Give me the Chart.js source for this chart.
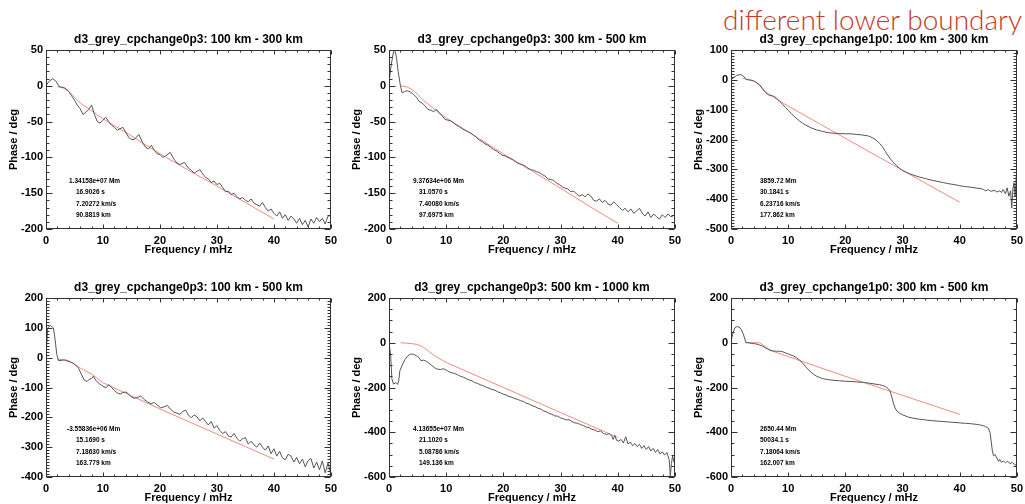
<!DOCTYPE html>
<html>
<head>
<meta charset="utf-8">
<title>Phase vs frequency</title>
<script src="https://cdn.jsdelivr.net/npm/chart.js@4.4.1/dist/chart.umd.min.js"></script>
<style>
  html, body { margin: 0; padding: 0; background: #fff; width: 1025px; height: 504px; overflow: hidden; }
  canvas.panel { position: absolute; }
  #note {
    position: absolute; left: 723px; top: 4px;
    font: 300 28px Lato, "Open Sans", sans-serif; line-height: 30px;
    color: #c4392a; white-space: nowrap;
  }
</style>
</head>
<body>
<div id="note">different lower boundary</div>
<canvas id="p1" class="panel"></canvas>
<canvas id="p2" class="panel"></canvas>
<canvas id="p3" class="panel"></canvas>
<canvas id="p4" class="panel"></canvas>
<canvas id="p5" class="panel"></canvas>
<canvas id="p6" class="panel"></canvas>
<script>
(function() {
    'use strict';

    // x axis (frequency, mHz)
    const freqTicks = [0, 10, 20, 30, 40, 50];

    // y tick labels per panel
    const yTicks1 = [-200, -150, -100, -50, 0, 50];
    const yTicks2 = [-200, -150, -100, -50, 0, 50];
    const yTicks3 = [-500, -400, -300, -200, -100, 0, 100];
    const yTicks4 = [-400, -300, -200, -100, 0, 100, 200];
    const yTicks5 = [-600, -400, -200, 0, 200];
    const yTicks6 = [-600, -400, -200, 0, 200];

    // measured phase [freq, deg]
    const phase1 = [[0,0],[0.5,6],[1.2,10],[1.8,6],[2.2,0],[2.6,-2],[3,-2],[3.5,-4],[4,-8],[4.5,-14],[5,-20],[5.5,-27],[6,-32],[6.5,-40],[7,-37],[7.5,-33],[8,-27],[8.5,-40],[9,-50],[9.5,-52],[10,-48],[10.5,-44],[11,-50],[11.5,-55],[12,-58],[12.5,-62],[13,-60],[13.5,-58],[14,-65],[14.5,-72],[15,-75],[15.5,-75],[16.3,-68],[17,-80],[17.5,-86],[18,-88],[18.5,-83],[19,-90],[19.5,-95],[20,-96],[20.5,-100],[21,-98],[21.8,-93],[22.5,-103],[23,-108],[23.5,-110],[24.3,-107],[25,-115],[25.5,-118],[26,-122],[27,-117],[27.5,-123],[28,-128],[28.5,-130],[29,-135],[29.5,-133],[30,-138],[30.5,-136],[31,-142],[31.5,-148],[32,-147],[32.5,-152],[33,-150],[33.5,-155],[34,-158],[34.5,-156],[35,-160],[35.5,-162],[36,-158],[36.5,-164],[37,-166],[37.5,-168],[38,-163],[38.5,-170],[39,-175],[39.5,-172],[40,-178],[40.5,-182],[41,-176],[41.5,-185],[42,-180],[42.5,-188],[43,-182],[43.5,-186],[44,-192],[44.5,-185],[45,-194],[45.5,-188],[46,-197],[46.5,-186],[47,-192],[47.5,-184],[48,-190],[48.5,-185],[49,-193],[49.5,-182],[50,-181]];
    const phase2 = [[0,5],[0.4,30],[0.8,48],[1,50],[1.3,40],[1.6,20],[2,0],[2.3,-10],[2.7,-8],[3.2,-7],[3.8,-9],[4.3,-12],[4.8,-16],[5.3,-22],[5.8,-24],[6.3,-28],[6.8,-33],[7.3,-34],[7.8,-36],[8.3,-33],[8.8,-38],[9.3,-42],[9.8,-47],[10.3,-48],[10.8,-49],[11.3,-52],[11.8,-55],[12.3,-57],[12.8,-60],[13.3,-62],[13.8,-64],[14.3,-66],[14.8,-69],[15.3,-72],[15.8,-76],[16.3,-78],[16.8,-81],[17.3,-83],[17.8,-86],[18.3,-89],[18.8,-91],[19.3,-94],[19.8,-97],[20.3,-98],[20.8,-100],[21.3,-102],[21.8,-104],[22.3,-107],[22.8,-109],[23.3,-110],[23.8,-112],[24.3,-115],[24.8,-117],[25.3,-118],[25.8,-120],[26.3,-121],[26.8,-124],[27.3,-126],[27.8,-130],[28.3,-131],[28.8,-132],[29.3,-136],[29.8,-138],[30.3,-141],[30.8,-143],[31.3,-144],[31.8,-148],[32.3,-147],[32.8,-151],[33.3,-154],[33.8,-152],[34.3,-155],[34.8,-151],[35.3,-154],[35.8,-160],[36.3,-161],[36.8,-158],[37.3,-163],[37.8,-160],[38.3,-165],[38.8,-167],[39.3,-162],[39.8,-166],[40.3,-170],[40.8,-174],[41.3,-171],[41.8,-176],[42.3,-172],[42.8,-178],[43.3,-175],[43.8,-171],[44.3,-178],[44.8,-182],[45.3,-176],[45.8,-184],[46.3,-179],[46.8,-183],[47.3,-186],[47.8,-180],[48.3,-184],[48.8,-179],[49.3,-183],[49.8,-181],[50,-182]];
    const phase3 = [[0,0],[0.5,8],[1,15],[1.7,18],[2.2,12],[2.6,2],[3,0],[3.5,-1],[4,-4],[4.5,-10],[5,-18],[5.5,-30],[6,-42],[6.5,-50],[7,-53],[7.5,-55],[8,-62],[8.5,-72],[9,-82],[9.5,-92],[10,-102],[10.5,-112],[11,-122],[11.5,-130],[12,-138],[12.5,-145],[13,-151],[14,-161],[15,-168],[16,-173],[17,-177],[18,-179],[19,-180],[20,-181],[21,-181],[22,-183],[23,-185],[24,-188],[24.5,-192],[25,-197],[25.5,-204],[26,-213],[26.5,-225],[27,-240],[27.5,-255],[28,-268],[28.5,-279],[29,-289],[29.5,-297],[30,-304],[31,-313],[32,-320],[33,-326],[34,-331],[35,-336],[36,-340],[37,-344],[38,-348],[39,-351],[40,-355],[41,-358],[42,-360],[43,-363],[44,-366],[44.5,-372],[45,-368],[45.5,-374],[46,-370],[46.5,-376],[47,-372],[47.3,-378],[47.6,-368],[48,-382],[48.3,-362],[48.6,-390],[48.9,-372],[49.1,-430],[49.3,-365],[49.5,-345],[49.7,-392],[49.9,-320],[50,-310]];
    const phase4 = [[0,0],[0.3,100],[0.8,108],[1.3,100],[1.6,60],[1.9,10],[2.2,-10],[2.7,-9],[3.2,-8],[3.7,-11],[4.2,-14],[4.7,-18],[5.2,-25],[5.7,-35],[6.2,-55],[6.7,-75],[7.2,-80],[7.6,-72],[8,-70],[8.3,-62],[8.7,-75],[9.2,-85],[9.7,-92],[10.2,-98],[10.6,-100],[11,-90],[11.5,-100],[12,-110],[12.5,-118],[13,-122],[13.5,-117],[14,-115],[14.5,-122],[15,-132],[15.5,-136],[16,-134],[16.6,-128],[17.2,-140],[17.8,-148],[18.4,-155],[19,-150],[19.5,-158],[20.1,-168],[20.7,-165],[21.3,-160],[21.8,-172],[22.4,-182],[23,-186],[23.5,-190],[24,-180],[24.5,-176],[25,-192],[25.5,-202],[26,-192],[26.5,-198],[27,-212],[27.5,-202],[28,-214],[28.5,-226],[29,-214],[29.5,-236],[30,-228],[30.5,-244],[31,-254],[31.5,-248],[32,-262],[32.5,-266],[33,-254],[33.5,-270],[34,-280],[34.5,-272],[35,-268],[35.5,-290],[36,-280],[36.5,-292],[37,-300],[37.5,-286],[38,-300],[38.5,-310],[39,-296],[39.5,-322],[40,-305],[40.5,-330],[41,-314],[41.5,-336],[42,-342],[42.5,-324],[43,-330],[43.5,-350],[44,-334],[44.5,-356],[45,-340],[45.5,-366],[46,-345],[46.5,-338],[47,-370],[47.5,-350],[48,-376],[48.5,-346],[49,-386],[49.5,-352],[50,-392]];
    const phase5 = [[0,0],[0.3,-60],[0.5,-160],[0.8,-185],[1.2,-178],[1.5,-186],[1.7,-170],[1.9,-125],[2.3,-100],[2.8,-75],[3.3,-58],[3.8,-50],[4.3,-52],[4.8,-58],[5.2,-65],[5.6,-80],[6,-78],[6.5,-82],[7,-92],[7.5,-102],[8,-112],[8.5,-118],[9,-120],[9.5,-116],[10,-122],[10.5,-130],[11,-134],[11.5,-138],[12,-143],[12.5,-150],[13,-154],[13.5,-160],[14,-166],[14.5,-170],[15,-178],[15.5,-182],[16,-188],[16.5,-192],[17,-199],[17.5,-203],[18,-209],[18.5,-212],[19,-219],[19.5,-224],[20,-230],[20.5,-234],[21,-240],[21.5,-244],[22,-250],[22.5,-253],[23,-259],[23.5,-262],[24,-270],[24.5,-274],[25,-281],[25.5,-285],[26,-292],[26.5,-296],[27,-304],[27.5,-308],[28,-316],[28.5,-320],[29,-327],[29.5,-328],[30,-336],[30.5,-340],[31,-345],[31.5,-344],[32,-352],[32.5,-358],[33,-360],[33.5,-366],[34,-370],[34.5,-377],[35,-379],[35.5,-387],[36,-390],[36.5,-397],[37,-394],[37.5,-405],[38,-410],[38.5,-406],[39,-418],[39.2,-432],[39.5,-414],[39.8,-436],[40.2,-440],[40.6,-432],[41,-448],[41.4,-420],[41.8,-452],[42.2,-444],[42.6,-460],[43,-450],[43.4,-464],[43.8,-454],[44.2,-472],[44.6,-460],[45,-477],[45.4,-464],[45.8,-484],[46.2,-472],[46.6,-490],[47,-477],[47.4,-497],[47.8,-487],[48.2,-502],[48.6,-490],[49,-522],[49.2,-595],[49.4,-540],[49.6,-505],[49.8,-530],[50,-540]];
    const phase6 = [[0,5],[0.3,40],[0.7,68],[1,72],[1.4,70],[1.8,60],[2.2,35],[2.6,2],[3,0],[3.5,-2],[4,-4],[4.5,-6],[5,-10],[5.5,-15],[6,-22],[6.5,-30],[7,-35],[7.5,-37],[8,-38],[8.5,-38],[9,-40],[9.5,-45],[10,-50],[10.5,-55],[11,-60],[11.5,-68],[12,-78],[12.5,-90],[13,-105],[13.5,-120],[14,-132],[14.5,-142],[15,-150],[15.5,-155],[16,-160],[17,-165],[18,-168],[19,-170],[20,-172],[21,-173],[22,-175],[23,-177],[24,-180],[25,-184],[26,-188],[26.5,-191],[27,-196],[27.5,-205],[27.8,-215],[28.1,-240],[28.4,-270],[28.7,-292],[29,-305],[29.5,-315],[30,-322],[31,-332],[32,-338],[33,-342],[34,-345],[35,-348],[36,-350],[37,-352],[38,-354],[39,-356],[40,-358],[41,-360],[42,-362],[43,-365],[43.5,-367],[44,-370],[44.5,-374],[45,-382],[45.3,-400],[45.5,-440],[45.7,-480],[45.9,-505],[46.2,-500],[46.5,-515],[46.8,-530],[47,-522],[47.3,-535],[47.6,-528],[48,-536],[48.4,-530],[48.8,-540],[49.2,-535],[49.6,-545],[50,-548]];

    // fitted phase [freq, deg]
    const fit1 = [[2,-1],[3,-3],[4,-8],[5,-16],[6,-24],[8,-35],[10,-46],[15,-70],[20,-95],[25,-118],[30,-140],[35,-163],[40,-186]];
    const fit2 = [[2,0],[3,-1],[4,-5],[5,-12],[6,-20],[8,-33],[10,-45],[15,-70],[20,-95],[25,-119],[30,-143],[35,-168],[40,-192]];
    const fit3 = [[2,5],[3,1],[4,-4],[5,-15],[6,-40],[8,-65],[10,-88],[15,-142],[20,-196],[25,-250],[30,-303],[35,-357],[40,-410]];
    const fit4 = [[2,-5],[3,-6],[4,-10],[5,-22],[6,-35],[8,-55],[10,-84],[15,-128],[20,-172],[25,-214],[30,-256],[35,-298],[40,-340]];
    const fit5 = [[2,0],[3,-2],[4,-4],[5,-8],[6,-20],[7,-40],[8,-58],[10,-88],[20,-200],[30,-312],[40,-423]];
    const fit6 = [[2.4,0],[5,0],[7,-35],[10,-62],[20,-150],[30,-235],[40,-320]];

    // fit results printed in each panel
    const notes1 = ['1.34158e+07 Mm', '16.9026 s', '7.20272 km/s', '90.8819 km'];
    const notes2 = ['9.37634e+06 Mm', '31.0570 s', '7.40080 km/s', '97.6975 km'];
    const notes3 = ['3859.72 Mm', '30.1841 s', '6.23716 km/s', '177.862 km'];
    const notes4 = ['-3.55836e+06 Mm', '15.1690 s', '7.18630 km/s', '163.779 km'];
    const notes5 = ['4.13655e+07 Mm', '21.1020 s', '5.08786 km/s', '149.136 km'];
    const notes6 = ['2650.44 Mm', '50034.1 s', '7.18064 km/s', '162.007 km'];

    const FONT = '"Liberation Sans", Arial, Helvetica, sans-serif';
    const PLOT_H = 179;
    const PAD = { left: 46, top: 22, right: 8, bottom: 30 };

    const panels = [
        { id: 'p1', title: 'd3_grey_cpchange0p3: 100 km - 300 km', left: 46, top: 50, w: 288, phase: phase1, fit: fit1, yTicks: yTicks1, yMinor: 10, notes: notes1, noteX: [23, 30, 30, 30] },
        { id: 'p2', title: 'd3_grey_cpchange0p3: 300 km - 500 km', left: 389, top: 50, w: 289, phase: phase2, fit: fit2, yTicks: yTicks2, yMinor: 10, notes: notes2, noteX: [24, 30, 30, 30] },
        { id: 'p3', title: 'd3_grey_cpchange1p0: 100 km - 300 km', left: 731, top: 50, w: 289, phase: phase3, fit: fit3, yTicks: yTicks3, yMinor: 10, notes: notes3, noteX: [29, 29, 29, 29] },
        { id: 'p4', title: 'd3_grey_cpchange0p3: 100 km - 500 km', left: 46, top: 298, w: 288, phase: phase4, fit: fit4, yTicks: yTicks4, yMinor: 10, notes: notes4, noteX: [21, 30, 30, 30] },
        { id: 'p5', title: 'd3_grey_cpchange0p3: 500 km - 1000 km', left: 389, top: 298, w: 289, phase: phase5, fit: fit5, yTicks: yTicks5, yMinor: 50, notes: notes5, noteX: [24, 30, 30, 30] },
        { id: 'p6', title: 'd3_grey_cpchange1p0: 300 km - 500 km', left: 731, top: 298, w: 289, phase: phase6, fit: fit6, yTicks: yTicks6, yMinor: 50, notes: notes6, noteX: [29, 29, 29, 29] }
    ];

    function toPoints(pairs) {
        return pairs.map(p => ({ x: p[0], y: p[1] }));
    }

    // IDL-style box with inward major/minor ticks, titles and fit notes
    const idlFrame = {
        id: 'idlFrame',
        afterDraw(chart, args, opts) {
            const ctx = chart.ctx;
            const a = chart.chartArea;
            const xs = chart.scales.x;
            const ys = chart.scales.y;
            const L = Math.round(a.left) + 0.5, R = Math.round(a.right) - 0.5;
            const T = Math.round(a.top) + 0.5, B = Math.round(a.bottom) - 0.5;

            ctx.save();
            ctx.strokeStyle = '#333';
            ctx.lineWidth = 1;
            ctx.strokeRect(L, T, R - L, B - T);

            ctx.beginPath();
            // x ticks, top and bottom
            const xMajor = opts.xMajor, xMinor = opts.xMinor;
            for (let i = 0; i <= Math.round((xs.max - xs.min) / xMinor); i++) {
                const v = xs.min + i * xMinor;
                const px = Math.round(xs.getPixelForValue(v)) + 0.5;
                const isMajor = Math.abs(v / xMajor - Math.round(v / xMajor)) < 1e-6;
                const len = isMajor ? 4 : 2;
                ctx.moveTo(px, B); ctx.lineTo(px, B - len);
                ctx.moveTo(px, T); ctx.lineTo(px, T + len);
            }
            // y ticks, left and right
            const yMajor = opts.yMajor, yMinor = opts.yMinor;
            for (let i = 0; i <= Math.round((ys.max - ys.min) / yMinor); i++) {
                const v = ys.min + i * yMinor;
                const py = Math.round(ys.getPixelForValue(v)) + 0.5;
                const isMajor = Math.abs(v / yMajor - Math.round(v / yMajor)) < 1e-6;
                const len = isMajor ? 6 : 3;
                ctx.moveTo(L, py); ctx.lineTo(L + len, py);
                ctx.moveTo(R, py); ctx.lineTo(R - len, py);
            }
            ctx.stroke();

            ctx.fillStyle = '#000';
            // panel title
            ctx.font = 'bold 12px ' + FONT;
            ctx.textAlign = 'center';
            ctx.textBaseline = 'middle';
            ctx.fillText(opts.title, (a.left + a.right) / 2, a.top - 10);

            // axis titles
            ctx.font = 'bold 11px ' + FONT;
            ctx.fillText('Frequency / mHz', (a.left + a.right) / 2, a.bottom + 21);
            ctx.save();
            ctx.translate(a.left - 32, (a.top + a.bottom) / 2);
            ctx.rotate(-Math.PI / 2);
            ctx.fillText('Phase / deg', 0, 0);
            ctx.restore();

            // fit notes
            ctx.font = 'bold 6.5px ' + FONT;
            ctx.textAlign = 'left';
            opts.notes.forEach((line, i) => {
                ctx.fillText(line, a.left + opts.noteX[i], a.top + 131 + i * 11.4);
            });
            ctx.restore();
        }
    };

    function initPanel(p) {
        const canvas = document.getElementById(p.id);
        canvas.width = PAD.left + p.w + PAD.right;
        canvas.height = PAD.top + PLOT_H + PAD.bottom;
        canvas.style.left = (p.left - PAD.left) + 'px';
        canvas.style.top = (p.top - PAD.top) + 'px';

        const yMin = p.yTicks[0];
        const yMax = p.yTicks[p.yTicks.length - 1];
        const yStep = p.yTicks[1] - p.yTicks[0];
        const xStep = freqTicks[1] - freqTicks[0];

        new Chart(canvas.getContext('2d'), {
            type: 'line',
            data: {
                datasets: [{
                    data: toPoints(p.phase),
                    borderColor: '#555555',
                    borderWidth: 1,
                    pointRadius: 0,
                    tension: 0
                }, {
                    data: toPoints(p.fit),
                    borderColor: '#f28a80',
                    borderWidth: 1,
                    pointRadius: 0,
                    tension: 0
                }]
            },
            options: {
                responsive: false,
                animation: false,
                events: [],
                layout: { padding: { left: 0, top: PAD.top, right: PAD.right, bottom: 0 } },
                plugins: {
                    legend: { display: false },
                    tooltip: { enabled: false },
                    idlFrame: {
                        title: p.title, notes: p.notes, noteX: p.noteX,
                        xMajor: xStep, xMinor: 2, yMajor: yStep, yMinor: p.yMinor
                    }
                },
                scales: {
                    x: {
                        type: 'linear',
                        min: freqTicks[0],
                        max: freqTicks[freqTicks.length - 1],
                        afterFit: s => { s.height = PAD.bottom; },
                        grid: { display: false, drawTicks: false },
                        border: { display: false },
                        ticks: {
                            stepSize: xStep,
                            padding: 5,
                            color: '#000',
                            maxRotation: 0,
                            font: { family: FONT, size: 11, weight: 'bold' }
                        }
                    },
                    y: {
                        type: 'linear',
                        min: yMin,
                        max: yMax,
                        afterFit: s => { s.width = PAD.left; },
                        grid: { display: false, drawTicks: false },
                        border: { display: false },
                        ticks: {
                            stepSize: yStep,
                            padding: 3,
                            color: '#000',
                            font: { family: FONT, size: 11, weight: 'bold' }
                        }
                    }
                }
            },
            plugins: [idlFrame]
        });
    }

    panels.forEach(initPanel);
})();
</script>
</body>
</html>
